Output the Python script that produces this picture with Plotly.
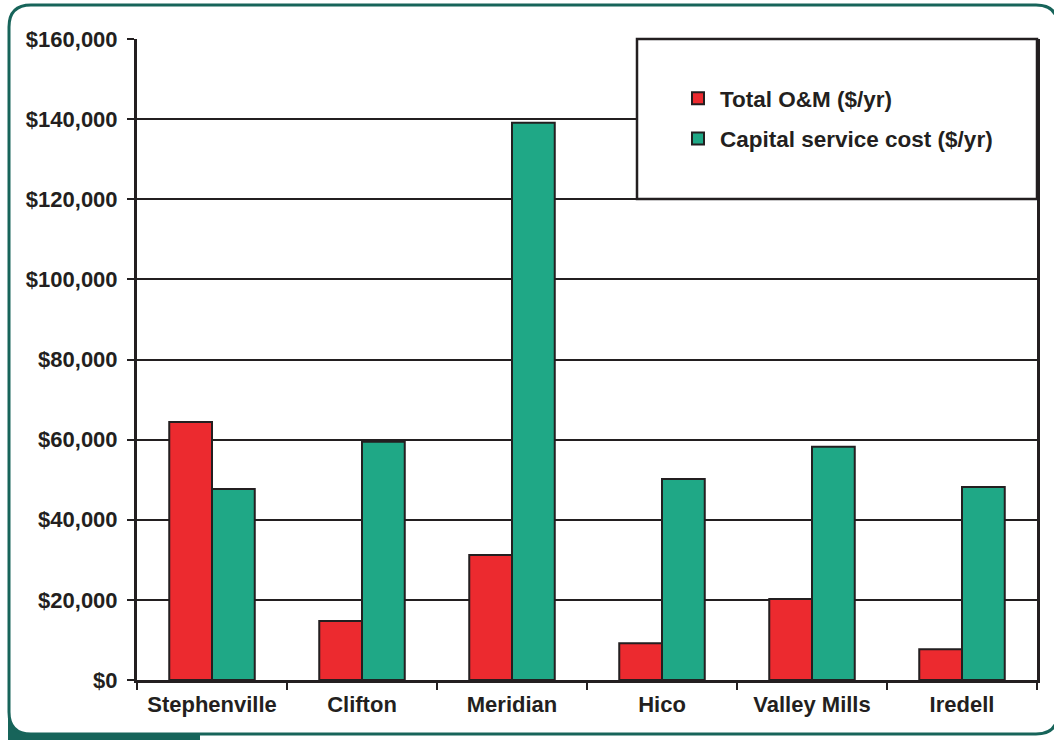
import plotly.graph_objects as go

categories = ["Stephenville", "Clifton", "Meridian", "Hico", "Valley Mills", "Iredell"]
om_values = [64400, 14700, 31200, 9200, 20200, 7700]
capital_values = [47700, 59500, 139100, 50200, 58200, 48200]
series_names = ["Total O&M ($/yr)", "Capital service cost ($/yr)"]

W, H = 1054, 740
L, R, T, B = 137, 1037, 39, 680
INK = "#231F20"
TEAL = "#17645A"
RED = "#EC2A2F"
GREEN = "#1FA886"

def px(x):
    return (x - L) / (R - L)

def py(y):
    return (B - y) / (B - T)

fig = go.Figure()
fig.add_trace(go.Bar(x=categories, y=om_values, name=series_names[0],
                     marker=dict(color=RED, line=dict(color=INK, width=2)),
                     legendgroup="a"))
fig.add_trace(go.Bar(x=categories, y=capital_values, name=series_names[1],
                     marker=dict(color=GREEN, line=dict(color=INK, width=2)),
                     legendgroup="b"))

font = dict(family="Liberation Sans", size=22, color=INK, weight="bold")

# outer rounded frame
r = 22
x0, y0, x1, y1 = 9, 5, 1058, 734
path = (f"M{px(x0+r)},{py(y0)} L{px(x1-r)},{py(y0)} Q{px(x1)},{py(y0)} {px(x1)},{py(y0+r)} "
        f"L{px(x1)},{py(y1-r)} Q{px(x1)},{py(y1)} {px(x1-r)},{py(y1)} "
        f"L{px(x0+r)},{py(y1)} Q{px(x0)},{py(y1)} {px(x0)},{py(y1-r)} "
        f"L{px(x0)},{py(y0+r)} Q{px(x0)},{py(y0)} {px(x0+r)},{py(y0)} Z")
shapes = [
    dict(type="rect", xref="paper", yref="paper", x0=px(8), x1=px(200), y0=py(700), y1=py(742),
         fillcolor=TEAL, line=dict(width=0), layer="below"),
    dict(type="path", xref="paper", yref="paper", path=path, fillcolor="white",
         line=dict(color=TEAL, width=3), layer="below"),
    # legend box
    dict(type="rect", xref="paper", yref="paper", x0=px(637), x1=px(1037), y0=py(199), y1=py(39),
         fillcolor="white", line=dict(color=INK, width=2.5), layer="above"),
]

fig.update_layout(
    width=W, height=H,
    margin=dict(l=L, r=W - R, t=T, b=H - B),
    paper_bgcolor="white", plot_bgcolor="white",
    barmode="group", bargap=0.43, bargroupgap=0,
    font=font,
    shapes=shapes,
    showlegend=True,
    legend=dict(x=px(676), xanchor="left", y=py(77), yanchor="top",
                bgcolor="rgba(0,0,0,0)", borderwidth=0, tracegroupgap=8, itemwidth=34,
                font=dict(family="Liberation Sans", size=22.5, color=INK, weight="bold")),
)
fig.update_yaxes(range=[0, 160000], dtick=20000, tickprefix="$", tickformat=",",
                 showgrid=True, gridcolor=INK, gridwidth=2,
                 showline=True, linecolor=INK, linewidth=3, mirror=True,
                 ticks="outside", ticklen=7, tickwidth=2, tickcolor=INK,
                 ticklabelstandoff=5,
                 zeroline=False, tickfont=font)
fig.update_xaxes(type="category", tickson="boundaries", ticks="outside", ticklen=7,
                 tickwidth=2, tickcolor=INK, showline=True, linecolor=INK, linewidth=3,
                 ticklabelstandoff=3,
                 showgrid=False, tickfont=font)

fig.write_html("out.html")
